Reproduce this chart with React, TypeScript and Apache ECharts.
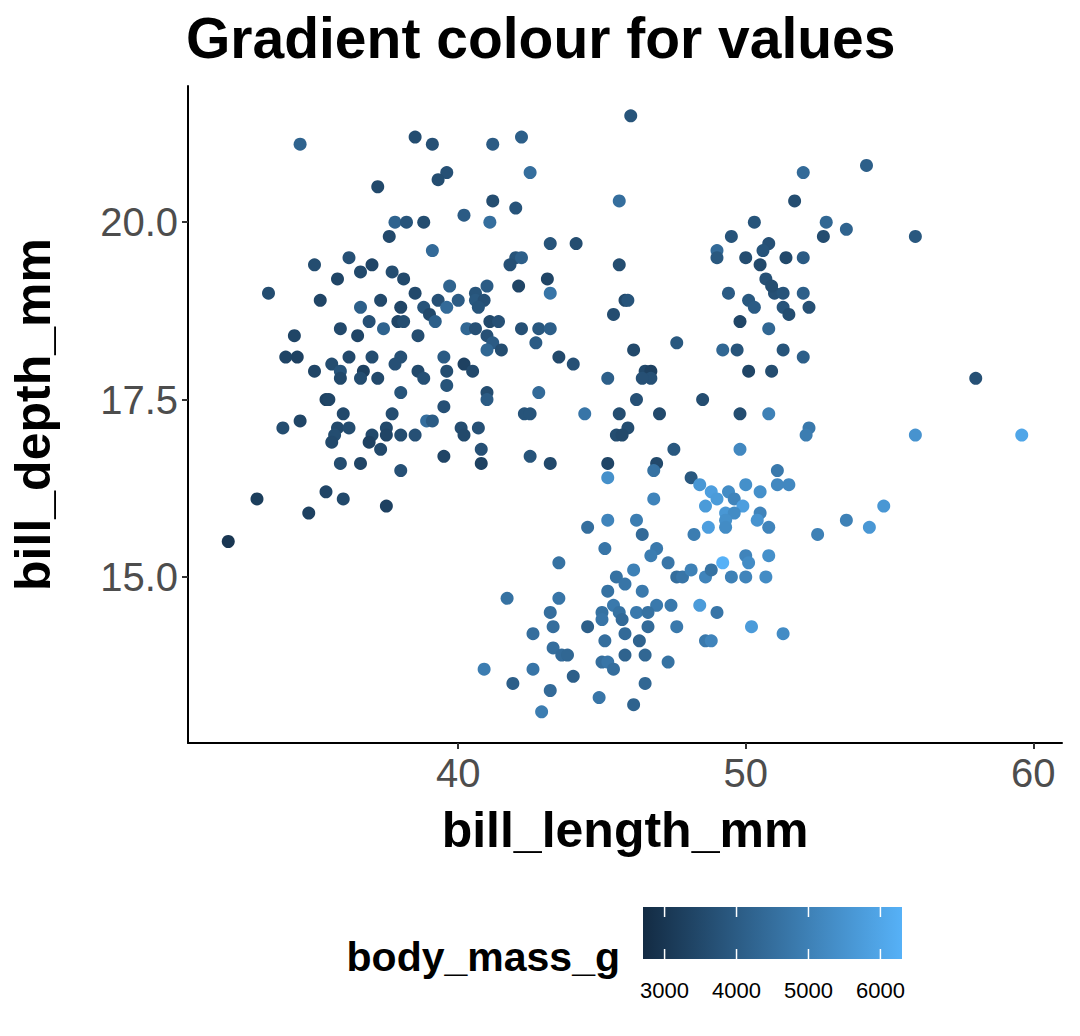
import * as echarts from "echarts";
import { useEffect, useRef } from "react";

// [bill_length_mm, bill_depth_mm, body_mass_g]
const adelie = [
  [34.5, 21.1, 4200], [38.5, 21.2, 3600], [39.1, 21.1, 3700], [41.2, 21.1, 4000], [42.2, 21.2, 4100],
  [39.6, 20.7, 3700], [39.3, 20.6, 3600], [37.2, 20.5, 3500], [42.5, 20.7, 4500], [41.2, 20.3, 3600],
  [42.0, 20.2, 3800], [40.2, 20.1, 4000], [41.1, 20.0, 4500], [37.8, 20.0, 4200], [38.2, 20.0, 3800],
  [38.8, 20.0, 3600], [37.6, 19.8, 3500], [39.1, 19.6, 4400], [43.2, 19.7, 3800], [44.1, 19.7, 3600],
  [36.2, 19.5, 3700], [35.0, 19.4, 3600], [37.0, 19.4, 3400], [42.0, 19.5, 3800], [42.2, 19.5, 4100],
  [41.8, 19.4, 3700], [36.6, 19.3, 3500], [37.7, 19.3, 3600], [33.4, 19.0, 3600], [35.8, 19.2, 3400],
  [38.1, 19.2, 3500], [39.7, 19.1, 4200], [41.0, 19.1, 4000], [40.6, 19.0, 3800], [38.5, 19.0, 3500],
  [35.2, 18.9, 3400], [37.3, 18.9, 3500], [39.3, 18.9, 3700], [40.0, 18.9, 4000], [40.6, 18.9, 3900],
  [40.9, 18.9, 3700], [36.6, 18.8, 4100], [38.0, 18.8, 3400], [38.8, 18.8, 3800], [39.6, 18.8, 4400],
  [40.7, 18.8, 3800], [42.1, 19.1, 3400], [43.1, 19.2, 3400], [43.2, 19.0, 4700], [39.0, 18.7, 3500],
  [39.2, 18.6, 4100], [36.9, 18.6, 3700], [37.9, 18.6, 3400], [38.1, 18.6, 3600], [41.1, 18.6, 3500],
  [41.4, 18.6, 3700], [40.3, 18.5, 4300], [40.6, 18.5, 3700], [42.2, 18.5, 3700], [42.8, 18.5, 3900],
  [43.2, 18.5, 4100], [35.9, 18.5, 3500], [37.4, 18.5, 4200], [36.5, 18.4, 3400], [34.3, 18.4, 3400],
  [38.6, 18.4, 3600], [41.0, 18.4, 3700], [41.2, 18.3, 4000], [42.7, 18.3, 4000], [34.0, 18.1, 3400],
  [34.4, 18.1, 3300], [36.2, 18.1, 3500], [37.0, 18.1, 3600], [38.0, 18.1, 3700], [39.5, 18.1, 4000],
  [41.0, 18.2, 4300], [41.5, 18.2, 3600], [43.5, 18.1, 3500], [35.6, 18.0, 3600], [40.2, 18.0, 3300],
  [35.9, 17.9, 3800], [35.0, 17.9, 3400], [36.7, 17.9, 3300], [37.8, 18.0, 3700], [38.6, 17.9, 3500],
  [39.6, 17.9, 3600], [40.5, 17.9, 3500], [44.0, 18.0, 3700], [37.2, 17.8, 3500], [36.6, 17.8, 3600],
  [35.9, 17.8, 3500], [38.8, 17.8, 3700], [39.6, 17.7, 3800], [41.0, 17.6, 3600], [42.8, 17.6, 4400],
  [35.4, 17.5, 3300], [35.5, 17.5, 3400], [41.0, 17.5, 4000], [38.0, 17.6, 3800], [39.5, 17.4, 3700],
  [36.0, 17.3, 3500], [37.7, 17.3, 3600], [38.9, 17.2, 4500], [39.1, 17.2, 4000], [42.3, 17.3, 3800],
  [42.5, 17.3, 3800], [34.5, 17.2, 3400], [33.9, 17.1, 3600], [35.8, 17.1, 3500], [36.2, 17.1, 3600],
  [37.5, 17.1, 3500], [40.1, 17.1, 3600], [40.7, 17.1, 3700], [35.7, 17.0, 3600], [37.0, 17.0, 3500],
  [37.5, 17.0, 3400], [38.0, 17.0, 3600], [38.5, 17.0, 3700], [40.2, 17.0, 3500], [35.6, 16.9, 3500],
  [36.9, 16.9, 3300], [37.3, 16.8, 3500], [40.8, 16.8, 3700], [39.5, 16.7, 3400], [42.5, 16.7, 3800],
  [35.9, 16.6, 3600], [36.6, 16.6, 3400], [40.8, 16.6, 3300], [43.2, 16.6, 3500], [38.0, 16.5, 3700],
  [33.0, 16.1, 3200], [35.4, 16.2, 3400], [36.0, 16.1, 3500], [37.5, 16.0, 3300], [34.8, 15.9, 3300],
  [32.0, 15.5, 3000],
];

const chinstrap = [
  [46.0, 21.5, 3800], [54.2, 20.8, 4100], [52.0, 20.7, 4400], [45.6, 20.3, 4500], [51.7, 20.3, 3600],
  [50.3, 20.0, 3800], [52.8, 20.0, 4300], [53.5, 19.9, 4200], [55.9, 19.8, 3900], [52.7, 19.8, 3600],
  [49.5, 19.8, 3800], [50.8, 19.7, 3700], [50.6, 19.6, 3800], [49.0, 19.6, 4400], [49.0, 19.5, 3900],
  [50.0, 19.5, 3600], [51.4, 19.5, 3500], [52.0, 19.5, 4000], [45.6, 19.4, 3600], [50.5, 19.4, 3500],
  [49.4, 19.0, 4000], [51.0, 19.0, 3700], [50.7, 19.2, 3700], [50.9, 19.1, 3600], [51.3, 19.0, 3800],
  [52.0, 19.0, 4100], [50.1, 18.9, 3900], [45.8, 18.9, 3500], [45.9, 18.9, 3800], [50.3, 18.8, 4000],
  [51.3, 18.8, 3800], [52.2, 18.8, 3700], [45.4, 18.7, 3600], [51.5, 18.7, 3600], [49.8, 18.6, 3400],
  [50.8, 18.5, 4300], [47.6, 18.3, 3900], [49.2, 18.2, 4300], [49.7, 18.2, 3800], [51.3, 18.2, 3800],
  [46.1, 18.2, 3500], [52.0, 18.1, 4100], [50.1, 17.9, 3400], [50.9, 17.9, 3600], [46.5, 17.9, 3500],
  [46.7, 17.9, 3300], [46.7, 17.8, 3700], [45.2, 17.8, 4100], [58.0, 17.8, 3700], [46.4, 17.8, 3700],
  [46.2, 17.5, 3700], [48.5, 17.5, 3600], [44.4, 17.3, 4700], [45.6, 17.3, 3600], [47.0, 17.3, 3500],
  [49.8, 17.3, 3600], [50.8, 17.3, 5000], [45.9, 17.1, 3600], [45.5, 17.0, 3600], [45.7, 17.0, 3500],
  [52.2, 17.1, 4800], [52.1, 17.0, 4900], [55.9, 17.0, 5500], [59.6, 17.0, 6000], [47.5, 16.8, 3900],
  [49.8, 16.8, 5200], [46.9, 16.6, 3500], [45.2, 16.6, 3400], [46.8, 16.5, 4600], [51.1, 16.5, 4800],
  [48.1, 16.4, 3900], [45.2, 16.4, 5400],
];

const gentoo = [
  [48.4, 16.3, 5600], [50.0, 16.3, 5400], [51.1, 16.3, 5200], [51.5, 16.3, 5200], [48.8, 16.2, 5800],
  [49.4, 16.2, 5300], [50.5, 16.2, 5400], [46.8, 16.1, 5100], [49.0, 16.1, 5700], [49.6, 16.1, 5100],
  [54.8, 16.0, 5600], [48.6, 16.0, 5700], [49.9, 16.0, 5800], [49.3, 15.9, 5600], [49.6, 15.9, 5300],
  [50.5, 15.9, 5100], [50.4, 15.8, 5500], [53.5, 15.8, 5000], [46.2, 15.8, 4900], [45.2, 15.8, 5100],
  [49.3, 15.8, 5400], [54.3, 15.7, 5600], [44.5, 15.7, 4500], [48.7, 15.7, 5800], [49.3, 15.7, 5300],
  [50.8, 15.7, 5100], [48.2, 15.6, 4900], [52.5, 15.6, 5000], [46.4, 15.6, 4400], [46.9, 15.4, 4800],
  [45.1, 15.4, 4700], [46.7, 15.3, 4900], [50.0, 15.3, 5100], [50.8, 15.3, 5400], [43.5, 15.2, 4600],
  [49.2, 15.2, 6300], [50.1, 15.2, 5300], [47.3, 15.2, 4700], [46.1, 15.1, 5000], [45.5, 15.0, 4600],
  [47.6, 15.0, 4500], [47.8, 15.0, 4700], [48.1, 15.1, 5000], [48.6, 15.0, 5100], [48.8, 15.1, 4600],
  [49.5, 15.0, 5000], [50.0, 15.0, 5100], [50.7, 15.0, 5300], [45.8, 14.9, 4700], [46.4, 14.8, 4800],
  [45.2, 14.8, 4600], [43.5, 14.7, 4700], [41.7, 14.7, 4600], [46.9, 14.6, 4800], [45.4, 14.6, 4800],
  [45.6, 14.5, 4600], [46.2, 14.5, 4800], [46.6, 14.5, 4600], [47.4, 14.6, 4800], [48.4, 14.6, 5700],
  [45.0, 14.5, 4600], [43.2, 14.5, 4500], [45.7, 14.4, 4400], [45.0, 14.4, 4700], [49.0, 14.5, 4700],
  [43.3, 14.3, 4500], [44.5, 14.3, 4100], [47.6, 14.3, 4800], [50.2, 14.3, 5700], [42.6, 14.2, 4500],
  [45.8, 14.2, 4400], [46.6, 14.3, 4400], [51.3, 14.2, 5300], [46.3, 14.1, 4200], [48.6, 14.1, 4800],
  [48.8, 14.1, 5100], [43.3, 14.0, 4500], [45.1, 14.1, 4500], [43.6, 13.9, 4400], [43.8, 13.9, 4300],
  [45.8, 13.9, 4200], [46.5, 13.9, 4300], [47.3, 13.8, 4600], [45.0, 13.8, 4500], [45.2, 13.8, 4700],
  [42.6, 13.7, 4700], [40.9, 13.7, 4900], [45.4, 13.7, 4500], [44.0, 13.6, 4100], [46.5, 13.5, 4300],
  [41.9, 13.5, 4100], [43.2, 13.4, 4400], [44.9, 13.3, 4700], [46.1, 13.2, 4200], [42.9, 13.1, 4900],
];

const points = [...adelie, ...chinstrap, ...gentoo];
const xTicks = [40, 50, 60];
const yTicks = [15, 17.5, 20];
const massTicks = [3000, 4000, 5000, 6000];
const massMin = 2700;
const massMax = 6300;
const lowColor = "#132B43";
const highColor = "#56B1F7";

// legend bar geometry
const barX = 643;
const barY = 907;
const barW = 259;
const barH = 52;

export default function App() {
  const ref = useRef<HTMLDivElement>(null);

  useEffect(() => {
    if (!ref.current) return;
    document.body.style.margin = "0";
    const chart = echarts.init(ref.current, undefined, { renderer: "svg" });
    const font = "Liberation Sans, Arial, sans-serif";
    const toX = (v: number) => barX + ((v - massMin) / (massMax - massMin)) * barW;

    const legend: any[] = [
      {
        type: "rect",
        shape: { x: barX, y: barY, width: barW, height: barH },
        style: {
          fill: new echarts.graphic.LinearGradient(0, 0, 1, 0, [
            { offset: 0, color: lowColor },
            { offset: 1, color: highColor },
          ]),
        },
      },
      {
        type: "text",
        x: 620,
        y: 957,
        style: {
          text: "body_mass_g",
          font: `bold 41px ${font}`,
          fill: "#000",
          align: "right",
          verticalAlign: "middle",
        },
      },
    ];
    massTicks.forEach((t) => {
      const x = toX(t);
      legend.push(
        { type: "line", shape: { x1: x, y1: barY, x2: x, y2: barY + 10 }, style: { stroke: "#fff", lineWidth: 1.5 } },
        { type: "line", shape: { x1: x, y1: barY + barH - 10, x2: x, y2: barY + barH }, style: { stroke: "#fff", lineWidth: 1.5 } },
        {
          type: "text",
          x,
          y: 990,
          style: { text: String(t), font: `22px ${font}`, fill: "#000", align: "center", verticalAlign: "middle" },
        }
      );
    });

    chart.setOption({
      animation: false,
      backgroundColor: "#fff",
      title: {
        text: "Gradient colour for values",
        left: 181,
        top: 4,
        textStyle: { fontFamily: font, fontWeight: "bold", fontSize: 57, color: "#000" },
      },
      grid: { left: 181, right: 18, top: 86, bottom: 293, containLabel: false },
      xAxis: {
        type: "value",
        min: 30.6,
        max: 61,
        name: "bill_length_mm",
        nameLocation: "middle",
        nameGap: 62,
        nameTextStyle: { fontFamily: font, fontWeight: "bold", fontSize: 50, color: "#000" },
        axisLine: { lineStyle: { color: "#000", width: 2 } },
        axisTick: { lineStyle: { color: "#333", width: 2 }, length: 6, customValues: xTicks },
        axisLabel: { fontFamily: font, fontSize: 40, color: "#4d4d4d", margin: 10, customValues: xTicks },
        splitLine: { show: false },
      },
      yAxis: {
        type: "value",
        min: 12.66,
        max: 21.92,
        name: "bill_depth_mm",
        nameLocation: "middle",
        nameGap: 130,
        nameTextStyle: { fontFamily: font, fontWeight: "bold", fontSize: 50, color: "#000" },
        axisLine: { show: true, lineStyle: { color: "#000", width: 2 } },
        axisTick: { show: true, lineStyle: { color: "#333", width: 2 }, length: 6, customValues: yTicks },
        axisLabel: {
          fontFamily: font,
          fontSize: 40,
          color: "#4d4d4d",
          margin: 10,
          customValues: yTicks,
          formatter: (v: number) => v.toFixed(1),
        },
        splitLine: { show: false },
      },
      visualMap: {
        show: false,
        type: "continuous",
        dimension: 2,
        min: massMin,
        max: massMax,
        inRange: { color: [lowColor, highColor] },
      },
      series: [{ type: "scatter", data: points, symbolSize: 13, itemStyle: { opacity: 1 } }],
      graphic: legend,
    });
    return () => chart.dispose();
  }, []);

  return <div ref={ref} style={{ width: 1080, height: 1036 }} />;
}
